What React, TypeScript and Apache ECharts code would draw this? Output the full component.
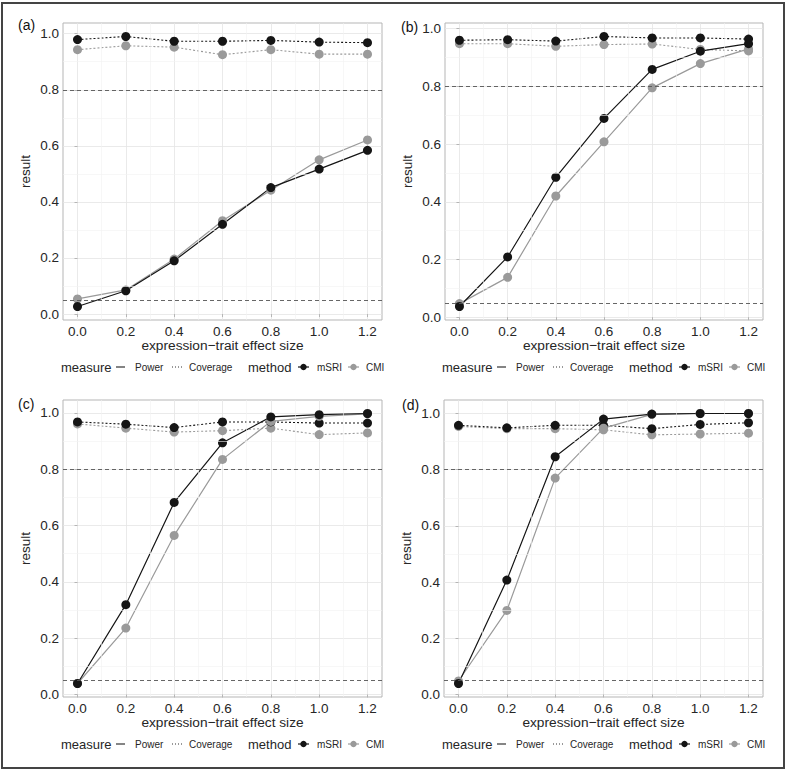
import React, { useEffect, useRef } from 'react';
import * as echarts from 'echarts';

const effectSizes = [0, 0.2, 0.4, 0.6, 0.8, 1.0, 1.2];
const panelLabels = ['(a)', '(b)', '(c)', '(d)'];
const xTicks = [0, 0.2, 0.4, 0.6, 0.8, 1.0, 1.2];
const yTicks = [0, 0.2, 0.4, 0.6, 0.8, 1.0];
const xMinor = [0.1, 0.3, 0.5, 0.7, 0.9, 1.1];
const yMinor = [0.1, 0.3, 0.5, 0.7, 0.9];
const refLines = [0.05, 0.8];

// Panel (a)
const aPowerMSRI = [0.027, 0.083, 0.19, 0.32, 0.451, 0.517, 0.584];
const aPowerCMI = [0.054, 0.086, 0.196, 0.333, 0.442, 0.55, 0.621];
const aCovMSRI = [0.979, 0.99, 0.973, 0.973, 0.976, 0.97, 0.968];
const aCovCMI = [0.943, 0.957, 0.952, 0.925, 0.943, 0.927, 0.927];
// Panel (b)
const bPowerMSRI = [0.037, 0.209, 0.485, 0.689, 0.859, 0.922, 0.948];
const bPowerCMI = [0.047, 0.138, 0.42, 0.608, 0.795, 0.879, 0.93];
const bCovMSRI = [0.96, 0.962, 0.957, 0.973, 0.968, 0.968, 0.964];
const bCovCMI = [0.948, 0.948, 0.939, 0.945, 0.947, 0.928, 0.923];
// Panel (c)
const cPowerMSRI = [0.039, 0.319, 0.682, 0.894, 0.986, 0.994, 0.998];
const cPowerCMI = [0.039, 0.236, 0.565, 0.835, 0.97, 0.988, 0.997];
const cCovMSRI = [0.968, 0.96, 0.948, 0.968, 0.968, 0.964, 0.964];
const cCovCMI = [0.961, 0.946, 0.932, 0.937, 0.946, 0.923, 0.929];
// Panel (d)
const dPowerMSRI = [0.039, 0.407, 0.846, 0.98, 0.998, 1.0, 1.0];
const dPowerCMI = [0.048, 0.299, 0.77, 0.948, 0.997, 1.0, 1.0];
const dCovMSRI = [0.958, 0.949, 0.958, 0.958, 0.946, 0.961, 0.967];
const dCovCMI = [0.954, 0.946, 0.946, 0.942, 0.924, 0.927, 0.93];

const panels = [
  { powerMSRI: aPowerMSRI, powerCMI: aPowerCMI, covMSRI: aCovMSRI, covCMI: aCovCMI },
  { powerMSRI: bPowerMSRI, powerCMI: bPowerCMI, covMSRI: bCovMSRI, covCMI: bCovCMI },
  { powerMSRI: cPowerMSRI, powerCMI: cPowerCMI, covMSRI: cCovMSRI, covCMI: cCovCMI },
  { powerMSRI: dPowerMSRI, powerCMI: dPowerCMI, covMSRI: dCovMSRI, covCMI: dCovCMI },
];

const FONT = '"Liberation Sans", Arial, Helvetica, sans-serif';
const BLACK = '#151515';
const GREY = '#9a9a9a';
const TEXT = '#262626';

const gridBoxes = [
  { left: 63, top: 23, width: 319, height: 297 },
  { left: 445, top: 23, width: 318, height: 297 },
  { left: 63, top: 400, width: 319, height: 297 },
  { left: 444, top: 400, width: 319, height: 297 },
];
const panelLabelPos = [
  { x: 18, y: 25 },
  { x: 401, y: 27 },
  { x: 18, y: 404 },
  { x: 402, y: 405 },
];
const legendPos = [
  { x: 61, y: 367 },
  { x: 442, y: 367 },
  { x: 61, y: 744 },
  { x: 442, y: 744 },
];

function limits(arrs: number[][], extra: number[]) {
  const all = ([] as number[]).concat(...arrs, extra);
  const lo = Math.min(...all);
  const hi = Math.max(...all);
  const pad = (hi - lo) * 0.05;
  return [lo - pad, hi + pad];
}

function tickFmt(allowed: number[]) {
  return (v: number) => {
    for (const a of allowed) if (Math.abs(a - v) < 1e-6) return a.toFixed(1);
    return '';
  };
}

function legendGraphics(bx: number, by: number) {
  const els: any[] = [];
  const big = 13;
  const small = 10;
  els.push({ type: 'text', x: bx, y: by, style: { text: 'measure', fontSize: big, fontFamily: FONT, fill: TEXT, verticalAlign: 'middle', align: 'left' } });
  els.push({ type: 'line', shape: { x1: bx + 55, y1: by, x2: bx + 64, y2: by }, style: { stroke: '#333', lineWidth: 1.2 } });
  els.push({ type: 'text', x: bx + 74, y: by, style: { text: 'Power', fontSize: small, fontFamily: FONT, fill: TEXT, verticalAlign: 'middle', align: 'left' } });
  els.push({ type: 'line', shape: { x1: bx + 111, y1: by, x2: bx + 121, y2: by }, style: { stroke: '#333', lineWidth: 1, lineDash: [1, 2] } });
  els.push({ type: 'text', x: bx + 128, y: by, style: { text: 'Coverage', fontSize: small, fontFamily: FONT, fill: TEXT, verticalAlign: 'middle', align: 'left' } });
  els.push({ type: 'text', x: bx + 187, y: by, style: { text: 'method', fontSize: big, fontFamily: FONT, fill: TEXT, verticalAlign: 'middle', align: 'left' } });
  els.push({ type: 'line', shape: { x1: bx + 237, y1: by, x2: bx + 248, y2: by }, style: { stroke: BLACK, lineWidth: 1.2 } });
  els.push({ type: 'circle', shape: { cx: bx + 242.5, cy: by, r: 3.2 }, style: { fill: BLACK } });
  els.push({ type: 'text', x: bx + 256, y: by, style: { text: 'mSRI', fontSize: small, fontFamily: FONT, fill: TEXT, verticalAlign: 'middle', align: 'left' } });
  els.push({ type: 'line', shape: { x1: bx + 287, y1: by, x2: bx + 298, y2: by }, style: { stroke: GREY, lineWidth: 1.2 } });
  els.push({ type: 'circle', shape: { cx: bx + 292.5, cy: by, r: 3.2 }, style: { fill: GREY } });
  els.push({ type: 'text', x: bx + 305, y: by, style: { text: 'CMI', fontSize: small, fontFamily: FONT, fill: TEXT, verticalAlign: 'middle', align: 'left' } });
  return els;
}

export default function App() {
  const ref = useRef<HTMLDivElement>(null);
  useEffect(() => {
    if (!ref.current) return;
    const chart = echarts.init(ref.current, undefined, { renderer: 'svg' });
    const grid: any[] = [];
    const xAxis: any[] = [];
    const yAxis: any[] = [];
    const series: any[] = [];
    const graphic: any[] = [];

    panels.forEach((p, i) => {
      grid.push({ ...gridBoxes[i], show: true, borderColor: '#b5b5b5', borderWidth: 1, backgroundColor: '#fff', containLabel: false });
      const [ymin, ymax] = limits([p.powerMSRI, p.powerCMI, p.covMSRI, p.covCMI], refLines);
      const [xmin, xmax] = limits([effectSizes], []);
      xAxis.push({
        type: 'value', gridIndex: i, min: xmin, max: xmax, splitNumber: 7,
        axisLine: { show: false },
        axisTick: { show: true, length: 3, lineStyle: { color: '#b5b5b5' }, customValues: xTicks },
        axisLabel: { customValues: xTicks, formatter: tickFmt(xTicks), fontSize: 13.5, color: TEXT, margin: 4, fontFamily: FONT },
        splitLine: { show: true, lineStyle: { color: '#e4e4e4', width: 0.8 } },
        name: 'expression\u2212trait effect size', nameLocation: 'middle', nameGap: 15,
        nameTextStyle: { fontSize: 13.7, color: TEXT, fontFamily: FONT, verticalAlign: 'top' },
      });
      yAxis.push({
        type: 'value', gridIndex: i, min: ymin, max: ymax, splitNumber: 5,
        axisLine: { show: false },
        axisTick: { show: true, length: 3, lineStyle: { color: '#b5b5b5' }, customValues: yTicks },
        axisLabel: { customValues: yTicks, formatter: tickFmt(yTicks), fontSize: 13.5, color: TEXT, margin: 4, fontFamily: FONT },
        splitLine: { show: true, lineStyle: { color: '#e4e4e4', width: 0.8 } },
        name: 'result', nameLocation: 'middle', nameGap: 31, nameRotate: 90,
        nameTextStyle: { fontSize: 13.5, color: TEXT, fontFamily: FONT },
      });
      // minor grid lines
      series.push({
        type: 'line', xAxisIndex: i, yAxisIndex: i, data: [], silent: true, z: 1,
        markLine: {
          silent: true, symbol: ['none', 'none'], label: { show: false },
          lineStyle: { color: '#f1f1f1', width: 0.6, type: 'solid' },
          data: [...yMinor.map((v) => ({ yAxis: v })), ...xMinor.map((v) => ({ xAxis: v }))],
          animation: false,
        },
      });
      // reference lines
      series.push({
        type: 'line', xAxisIndex: i, yAxisIndex: i, data: [], silent: true, z: 2,
        markLine: {
          silent: true, symbol: ['none', 'none'], label: { show: false },
          lineStyle: { color: '#555', width: 0.9, type: [4, 3] },
          data: refLines.map((v) => ({ yAxis: v })),
          animation: false,
        },
      });
      const mk = (name: string, vals: number[], color: string, dotted: boolean) => ({
        name, type: 'line', xAxisIndex: i, yAxisIndex: i, z: 3,
        data: effectSizes.map((x, j) => [x, vals[j]]),
        symbol: 'circle', symbolSize: 9, showSymbol: true,
        itemStyle: { color },
        lineStyle: { color, width: dotted ? 1.1 : 1.2, type: dotted ? [2, 2] : 'solid' },
        emphasis: { disabled: true },
      });
      series.push(mk('CMI Coverage', p.covCMI, GREY, true));
      series.push(mk('mSRI Coverage', p.covMSRI, BLACK, true));
      series.push(mk('CMI Power', p.powerCMI, GREY, false));
      series.push(mk('mSRI Power', p.powerMSRI, BLACK, false));

      graphic.push({ type: 'text', x: panelLabelPos[i].x, y: panelLabelPos[i].y, style: { text: panelLabels[i], fontSize: 14, fontFamily: FONT, fill: '#111', verticalAlign: 'middle', align: 'left' } });
      graphic.push(...legendGraphics(legendPos[i].x, legendPos[i].y));
    });

    graphic.push({ type: 'rect', shape: { x: 2, y: 3, width: 782, height: 765 }, style: { fill: 'none', stroke: '#444', lineWidth: 2 }, z: 100 });

    chart.setOption({
      animation: false,
      backgroundColor: '#fff',
      grid, xAxis, yAxis, series, graphic,
    });
    return () => chart.dispose();
  }, []);
  return <div ref={ref} style={{ position: 'fixed', left: 0, top: 0, width: 789, height: 774 }} />;
}
